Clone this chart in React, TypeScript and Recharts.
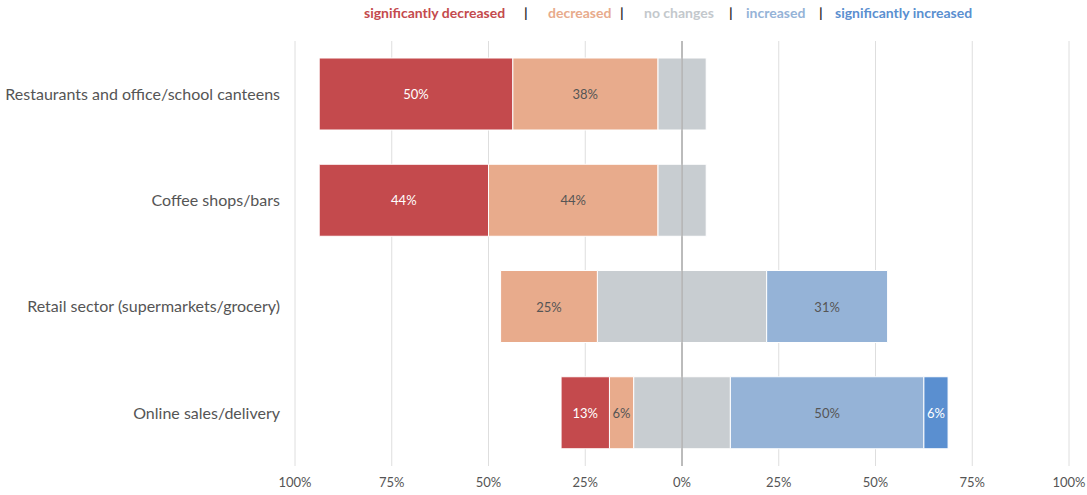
import { BarChart, Bar, XAxis, YAxis, CartesianGrid, ReferenceLine, LabelList } from 'recharts'

const categories = [
  'Restaurants and office/school canteens',
  'Coffee shops/bars',
  'Retail sector (supermarkets/grocery)',
  'Online sales/delivery',
]
const sigDecreased = [50, 43.75, 0, 12.5]
const decreased = [37.5, 43.75, 25, 6.25]
const noChanges = [12.5, 12.5, 43.75, 25]
const increased = [0, 0, 31.25, 50]
const sigIncreased = [0, 0, 0, 6.25]
const xTicks = [-100, -75, -50, -25, 0, 25, 50, 75, 100]

const legendItems = [
  { text: 'significantly decreased', color: '#c44a4d', x: 364 },
  { text: '|', color: '#333', x: 524 },
  { text: 'decreased', color: '#e8ab8c', x: 548 },
  { text: '|', color: '#333', x: 620 },
  { text: 'no changes', color: '#c3c8cc', x: 644 },
  { text: '|', color: '#333', x: 729 },
  { text: 'increased', color: '#95b3d7', x: 746 },
  { text: '|', color: '#333', x: 819 },
  { text: 'significantly increased', color: '#5a8fd0', x: 835 },
]

const data = categories.map((name, i) => ({
  name,
  sdNeg: -sigDecreased[i],
  dNeg: -decreased[i],
  ncNeg: -noChanges[i] / 2,
  ncPos: noChanges[i] / 2,
  inc: increased[i],
  sInc: sigIncreased[i],
}))

const FONT = 'Lato, "Noto Sans", sans-serif'

function makeLabel(fill: string) {
  return (props: any) => {
    const { x, y, width, height, value } = props
    const v = Math.abs(Number(value))
    if (!v) return null
    return (
      <text
        x={x + width / 2}
        y={y + height / 2}
        fill={fill}
        fontSize={13}
        fontFamily={FONT}
        textAnchor="middle"
        dominantBaseline="central"
      >
        {Math.round(v)}%
      </text>
    )
  }
}

export default function App() {
  return (
    <div style={{ position: 'fixed', left: 0, top: 0, width: 1087, height: 495, background: '#fff' }}>
      {legendItems.map((it, i) => (
        <span
          key={i}
          style={{
            position: 'absolute',
            left: it.x,
            top: 4,
            fontFamily: FONT,
            fontSize: 14,
            fontWeight: 700,
            color: it.color,
            whiteSpace: 'nowrap',
          }}
        >
          {it.text}
        </span>
      ))}
      <BarChart
        width={1087}
        height={495}
        data={data}
        layout="vertical"
        stackOffset="sign"
        barCategoryGap="16%"
        margin={{ top: 41, right: 18, left: 0, bottom: 0 }}
      >
        <CartesianGrid horizontal={false} stroke="#dedede" />
        <XAxis
          type="number"
          domain={[-100, 100]}
          ticks={xTicks}
          tickFormatter={(v: number) => `${Math.abs(v)}%`}
          axisLine={false}
          tickLine={false}
          height={29}
          tick={{ fontSize: 13, fill: '#555', fontFamily: FONT }}
          tickMargin={6}
        />
        <YAxis
          type="category"
          dataKey="name"
          width={295}
          axisLine={false}
          tickLine={false}
          tickMargin={9}
          tick={{ fontSize: 16, fill: '#555', fontFamily: FONT }}
        />
        <Bar dataKey="ncNeg" stackId="a" fill="#c8cdd1" stroke="#fff" strokeWidth={1} isAnimationActive={false} />
        <Bar dataKey="ncPos" stackId="a" fill="#c8cdd1" stroke="#fff" strokeWidth={1} isAnimationActive={false} />
        <Bar dataKey="dNeg" stackId="a" fill="#e8ab8c" stroke="#fff" strokeWidth={1} isAnimationActive={false}>
          <LabelList dataKey="dNeg" content={makeLabel('#555')} />
        </Bar>
        <Bar dataKey="inc" stackId="a" fill="#95b3d7" stroke="#fff" strokeWidth={1} isAnimationActive={false}>
          <LabelList dataKey="inc" content={makeLabel('#555')} />
        </Bar>
        <Bar dataKey="sdNeg" stackId="a" fill="#c44a4d" stroke="#fff" strokeWidth={1} isAnimationActive={false}>
          <LabelList dataKey="sdNeg" content={makeLabel('#fff')} />
        </Bar>
        <Bar dataKey="sInc" stackId="a" fill="#5a8fd0" stroke="#fff" strokeWidth={1} isAnimationActive={false}>
          <LabelList dataKey="sInc" content={makeLabel('#fff')} />
        </Bar>
        <ReferenceLine x={0} stroke="#888" strokeWidth={1} />
      </BarChart>
    </div>
  )
}
